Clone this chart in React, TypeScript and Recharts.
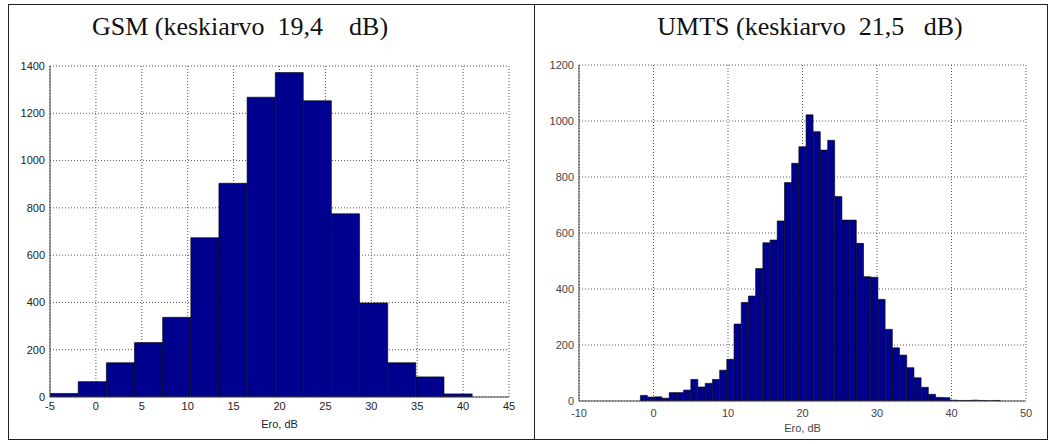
import React from 'react';
import { BarChart, Bar, XAxis, YAxis, CartesianGrid } from 'recharts';

// GSM histogram: 15 bins between -5 and 41 dB
const gsmBinCenters = [-3.47, -0.4, 2.67, 5.73, 8.8, 11.87, 14.93, 18.0, 21.07, 24.13, 27.2, 30.27, 33.33, 36.4, 39.47];
const gsmCounts = [15, 65, 145, 230, 337, 674, 904, 1268, 1372, 1253, 775, 398, 145, 85, 13];
const gsmXTicks = [-5, 0, 5, 10, 15, 20, 25, 30, 35, 40, 45];
const gsmYTicks = [0, 200, 400, 600, 800, 1000, 1200, 1400];

// UMTS histogram: 50 bins between -1.8 and 46.6 dB
const umtsBinCenters = [
  -1.28, -0.31, 0.66, 1.62, 2.59, 3.56, 4.52, 5.49, 6.46, 7.42,
  8.39, 9.36, 10.32, 11.29, 12.26, 13.22, 14.19, 15.16, 16.13, 17.09,
  18.06, 19.03, 19.99, 20.96, 21.93, 22.89, 23.86, 24.83, 25.79, 26.76,
  27.73, 28.69, 29.66, 30.63, 31.6, 32.56, 33.53, 34.5, 35.46, 36.43,
  37.4, 38.36, 39.33, 40.3, 41.26, 42.23, 43.2, 44.16, 45.13, 46.1,
];
const umtsCounts = [
  20, 14, 15, 10, 30, 30, 39, 77, 50, 63,
  77, 110, 149, 275, 352, 375, 473, 565, 575, 643,
  780, 849, 908, 1022, 962, 896, 931, 730, 646, 646,
  563, 444, 442, 363, 256, 190, 164, 119, 83, 49,
  24, 13, 12, 3, 2, 2, 3, 2, 1, 2,
];
const umtsXTicks = [-10, 0, 10, 20, 30, 40, 50];
const umtsYTicks = [0, 200, 400, 600, 800, 1000, 1200];

const gsmTitle = 'GSM (keskiarvo  19,4    dB)';
const umtsTitle = 'UMTS (keskiarvo  21,5   dB)';
const xLabel = 'Ero, dB';

type PanelProps = {
  left: number;
  width: number;
  height: number;
  centers: number[];
  counts: number[];
  xTicks: number[];
  yTicks: number[];
  margin: { top: number; right: number; bottom: number; left: number };
  yAxisWidth: number;
  xTickGap: number;
  tickColor: string;
};

function HistPanel(p: PanelProps) {
  const data = p.centers.map((x, i) => ({ x, n: p.counts[i] }));
  const tickStyle = { fontFamily: 'Liberation Sans, Arial, sans-serif', fontSize: 11, fill: p.tickColor };
  return (
    <div style={{ position: 'absolute', left: p.left, top: 0 }}>
      <BarChart
        width={p.width}
        height={p.height}
        data={data}
        margin={p.margin}
        barCategoryGap={0}
        barGap={0}
      >
        <CartesianGrid stroke="#555" strokeDasharray="1 2" strokeWidth={1} />
        <XAxis
          dataKey="x"
          type="number"
          domain={[p.xTicks[0], p.xTicks[p.xTicks.length - 1]]}
          ticks={p.xTicks}
          allowDataOverflow
          interval={0}
          stroke="#444"
          tickLine={false}
          tickSize={4}
          tickMargin={p.xTickGap}
          tick={tickStyle}
          height={31}
          label={{ value: xLabel, position: 'insideBottom', offset: 0, style: tickStyle }}
        />
        <YAxis
          type="number"
          domain={[p.yTicks[0], p.yTicks[p.yTicks.length - 1]]}
          ticks={p.yTicks}
          allowDataOverflow
          interval={0}
          stroke="#444"
          tickLine={false}
          tickSize={3}
          tickMargin={2}
          tick={tickStyle}
          width={p.yAxisWidth}
        />
        <Bar dataKey="n" fill="#00008f" stroke="#000" strokeWidth={0.6} isAnimationActive={false} />
      </BarChart>
    </div>
  );
}

const titleStyle: React.CSSProperties = {
  position: 'absolute',
  whiteSpace: 'pre',
  fontFamily: 'Liberation Serif, Times New Roman, serif',
  fontSize: 26,
  color: '#111',
  transform: 'translateX(-50%)',
  lineHeight: '30px',
};

export default function App() {
  return (
    <div style={{ position: 'absolute', left: 0, top: 0, width: 1052, height: 444, background: '#fff', overflow: 'hidden' }}>
      {/* panel frame */}
      <div style={{ position: 'absolute', left: 8, top: 4, width: 1040, height: 436, border: '1px solid #222', boxSizing: 'border-box' }} />
      <div style={{ position: 'absolute', left: 534, top: 4, width: 1, height: 436, background: '#222' }} />

      <HistPanel
        left={0}
        width={530}
        height={444}
        centers={gsmBinCenters}
        counts={gsmCounts}
        xTicks={gsmXTicks}
        yTicks={gsmYTicks}
        margin={{ top: 66, right: 21, bottom: 16, left: 0 }}
        yAxisWidth={50}
        xTickGap={1}
        tickColor="#222"
      />
      <HistPanel
        left={530}
        width={522}
        height={444}
        centers={umtsBinCenters}
        counts={umtsCounts}
        xTicks={umtsXTicks}
        yTicks={umtsYTicks}
        margin={{ top: 65, right: 26, bottom: 12, left: 0 }}
        yAxisWidth={49}
        xTickGap={4}
        tickColor="#444"
      />

      <div style={{ ...titleStyle, left: 240, top: 12 }}>{gsmTitle}</div>
      <div style={{ ...titleStyle, left: 810, top: 12 }}>{umtsTitle}</div>
    </div>
  );
}
